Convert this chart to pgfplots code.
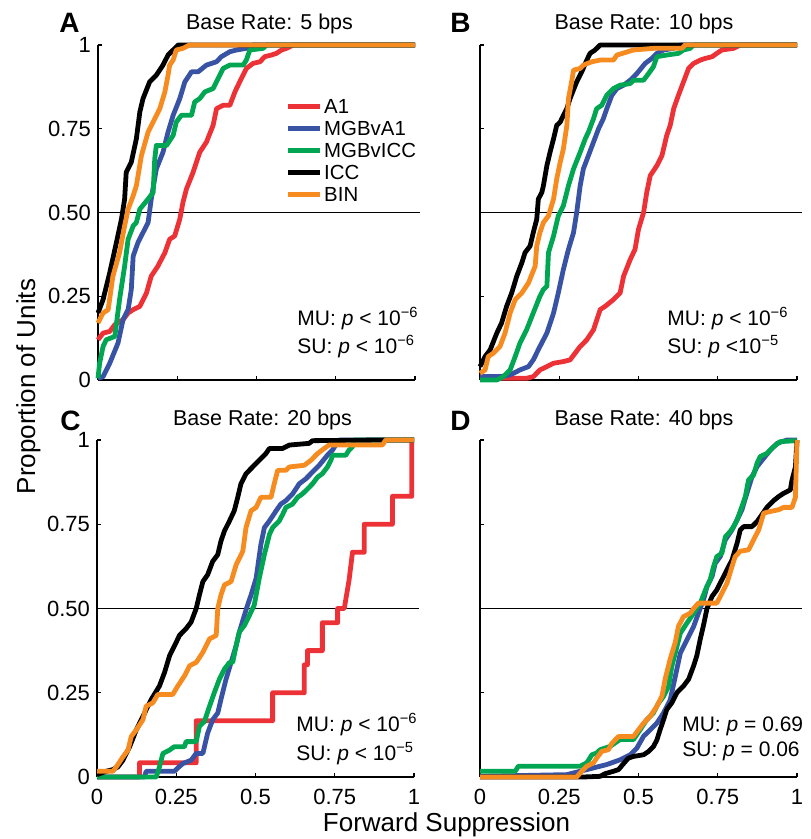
\documentclass[border=0pt]{standalone}
\usepackage{fontspec}
\setmainfont{Liberation Sans}
\usepackage{pgfplots}
\pgfplotsset{compat=1.18}
\definecolor{cA1}{RGB}{237,50,55}
\definecolor{cMA}{RGB}{57,83,164}
\definecolor{cMI}{RGB}{0,166,81}
\definecolor{cICC}{RGB}{0,0,0}
\definecolor{cBIN}{RGB}{246,139,31}
\pgfplotsset{
  panel/.style={
    scale only axis, width=158.5pt, height=167.5pt,
    xmin=0, xmax=1, ymin=0, ymax=1,
    axis x line*=bottom, axis y line*=left,
    axis line style={-, line width=0.7pt, black},
    tick align=inside, major tick length=2pt,
    tick style={line width=0.7pt, black},
    xtick={0,0.25,0.5,0.75,1}, ytick={0,0.25,0.5,0.75,1},
    ticklabel style={font=\fontsize{11}{13}\selectfont},
    xticklabel style={yshift=-2.5pt},
    clip=false,
    every axis plot/.append style={line width=2.4pt, line join=round, mark=none},
  },
}
\tikzset{mutext/.style={anchor=base west, font=\fontsize{10.5}{12}\selectfont, inner sep=0pt}}
\newcommand{\hl}{\addplot[black, line width=0.7pt, forget plot] coordinates {(0,0.5) (1.017,0.5)};}
\begin{document}
\begin{tikzpicture}
\useasboundingbox (0,0) rectangle (405pt,419.5pt);
% ---------------- A ----------------
\begin{axis}[panel, at={(49pt,229.5pt)}, anchor=south west,
  xticklabels={}, yticklabels={0,0.25,0.50,0.75,1},
  legend style={at={(rel axis cs:0.59,0.85)}, anchor=north west, draw=none, fill=none,
    font=\fontsize{10.2}{11}\selectfont, row sep=0pt, inner sep=0pt,
    nodes={inner sep=1pt, text height=8pt, text depth=1pt}},
  legend cell align=left,
  legend image code/.code={\draw[#1, line width=2.4pt] (0pt,0pt) -- (16pt,0pt);}]
\hl
\addplot[cA1] coordinates {(0,0.12) (0.016,0.14) (0.037,0.145) (0.053,0.165) (0.079,0.18) (0.095,0.20) (0.111,0.21) (0.132,0.22) (0.153,0.26) (0.168,0.31) (0.189,0.34) (0.211,0.38) (0.226,0.42) (0.242,0.43) (0.258,0.48) (0.268,0.53) (0.279,0.57) (0.300,0.62) (0.321,0.68) (0.342,0.71) (0.363,0.76) (0.374,0.81) (0.395,0.82) (0.416,0.82) (0.432,0.86) (0.447,0.89) (0.468,0.93) (0.489,0.945) (0.511,0.95) (0.526,0.965) (0.547,0.97) (0.563,0.975) (0.579,0.985) (0.595,0.99) (0.616,1) (1,1)};
\addlegendentry{A1}
\addplot[cMA] coordinates {(0,0.005) (0.016,0.01) (0.037,0.05) (0.063,0.11) (0.079,0.18) (0.095,0.21) (0.105,0.27) (0.111,0.37) (0.126,0.41) (0.142,0.44) (0.158,0.47) (0.168,0.54) (0.184,0.63) (0.205,0.68) (0.221,0.74) (0.237,0.79) (0.258,0.84) (0.274,0.89) (0.295,0.92) (0.316,0.92) (0.342,0.94) (0.374,0.95) (0.389,0.965) (0.416,0.98) (0.437,0.985) (0.468,0.99) (0.489,1) (1,1)};
\addlegendentry{MGBvA1}
\addplot[cMI] coordinates {(0,0.005) (0.005,0.05) (0.016,0.10) (0.026,0.12) (0.053,0.13) (0.068,0.24) (0.084,0.34) (0.095,0.42) (0.111,0.46) (0.121,0.47) (0.132,0.51) (0.158,0.54) (0.174,0.56) (0.179,0.66) (0.184,0.70) (0.216,0.70) (0.237,0.73) (0.247,0.77) (0.263,0.79) (0.295,0.79) (0.305,0.83) (0.321,0.84) (0.337,0.86) (0.363,0.87) (0.379,0.90) (0.395,0.93) (0.416,0.94) (0.458,0.94) (0.468,0.955) (0.479,0.985) (0.521,0.99) (0.532,1) (1,1)};
\addlegendentry{MGBvICC}
\addplot[cICC] coordinates {(0,0.20) (0.016,0.24) (0.037,0.32) (0.058,0.41) (0.074,0.48) (0.084,0.54) (0.089,0.62) (0.105,0.65) (0.121,0.72) (0.132,0.80) (0.142,0.84) (0.163,0.89) (0.184,0.91) (0.205,0.94) (0.221,0.97) (0.237,0.985) (0.253,1) (1,1)};
\addlegendentry{ICC}
\addplot[cBIN] coordinates {(0,0.17) (0.016,0.20) (0.032,0.21) (0.047,0.31) (0.068,0.38) (0.084,0.46) (0.095,0.51) (0.111,0.55) (0.121,0.58) (0.137,0.67) (0.158,0.74) (0.179,0.78) (0.195,0.81) (0.211,0.86) (0.221,0.91) (0.226,0.94) (0.237,0.955) (0.247,0.985) (0.268,0.99) (0.289,1) (1,1)};
\addlegendentry{BIN}
\node[mutext] at (rel axis cs:0.628,0.164) {MU: \textit{p} < 10\textsuperscript{−6}};
\node[mutext] at (rel axis cs:0.628,0.078) {SU: \textit{p} < 10\textsuperscript{−6}};
\end{axis}
% ---------------- B ----------------
\begin{axis}[panel, at={(240pt,229.5pt)}, anchor=south west,
  xticklabels={}, yticklabels={}]
\hl
\addplot[cA1] coordinates {(0,0.01) (0.063,0.005) (0.147,0.005) (0.168,0.01) (0.189,0.03) (0.211,0.04) (0.232,0.05) (0.263,0.055) (0.284,0.06) (0.3,0.08) (0.316,0.10) (0.337,0.12) (0.358,0.15) (0.379,0.21) (0.395,0.22) (0.421,0.24) (0.442,0.26) (0.453,0.31) (0.474,0.36) (0.489,0.39) (0.5,0.45) (0.516,0.50) (0.526,0.56) (0.537,0.61) (0.558,0.64) (0.574,0.67) (0.589,0.73) (0.6,0.76) (0.611,0.81) (0.626,0.85) (0.642,0.89) (0.658,0.93) (0.674,0.945) (0.695,0.955) (0.711,0.96) (0.732,0.965) (0.747,0.975) (0.763,0.985) (0.8,0.99) (0.821,1) (1,1)};
\addplot[cMA] coordinates {(0,0.01) (0.063,0.01) (0.095,0.015) (0.126,0.03) (0.153,0.04) (0.168,0.06) (0.189,0.10) (0.211,0.14) (0.232,0.20) (0.247,0.26) (0.263,0.33) (0.279,0.39) (0.295,0.44) (0.305,0.50) (0.316,0.58) (0.326,0.63) (0.342,0.67) (0.358,0.71) (0.374,0.75) (0.389,0.78) (0.4,0.81) (0.416,0.85) (0.432,0.87) (0.453,0.88) (0.474,0.895) (0.495,0.915) (0.521,0.945) (0.542,0.96) (0.558,0.975) (0.579,0.985) (0.611,0.99) (0.632,1) (1,1)};
\addplot[cMI] coordinates {(0,0) (0.053,0) (0.074,0.01) (0.095,0.03) (0.111,0.07) (0.126,0.11) (0.147,0.15) (0.168,0.20) (0.189,0.25) (0.2,0.27) (0.211,0.28) (0.216,0.38) (0.232,0.43) (0.247,0.49) (0.263,0.52) (0.279,0.58) (0.295,0.63) (0.316,0.68) (0.332,0.72) (0.342,0.74) (0.358,0.78) (0.368,0.81) (0.384,0.82) (0.4,0.85) (0.421,0.87) (0.442,0.88) (0.474,0.885) (0.484,0.895) (0.516,0.895) (0.532,0.915) (0.547,0.935) (0.558,0.965) (0.589,0.97) (0.626,0.975) (0.642,0.985) (0.663,0.99) (0.674,1) (1,1)};
\addplot[cICC] coordinates {(0,0.04) (0.016,0.07) (0.032,0.09) (0.053,0.14) (0.068,0.17) (0.084,0.22) (0.1,0.26) (0.116,0.31) (0.132,0.35) (0.142,0.38) (0.158,0.40) (0.168,0.44) (0.179,0.48) (0.184,0.54) (0.195,0.56) (0.2,0.58) (0.211,0.64) (0.221,0.68) (0.232,0.72) (0.242,0.76) (0.253,0.77) (0.263,0.79) (0.274,0.81) (0.284,0.84) (0.305,0.89) (0.321,0.92) (0.337,0.955) (0.347,0.975) (0.363,0.985) (0.379,1) (1,1)};
\addplot[cBIN] coordinates {(0,0.02) (0.016,0.03) (0.026,0.07) (0.042,0.08) (0.063,0.10) (0.079,0.14) (0.095,0.20) (0.111,0.24) (0.132,0.26) (0.153,0.29) (0.174,0.34) (0.179,0.40) (0.189,0.44) (0.2,0.47) (0.216,0.49) (0.232,0.54) (0.242,0.60) (0.253,0.65) (0.263,0.69) (0.274,0.76) (0.279,0.84) (0.289,0.89) (0.295,0.925) (0.316,0.93) (0.326,0.94) (0.353,0.95) (0.379,0.955) (0.421,0.955) (0.432,0.97) (0.484,0.985) (0.547,0.99) (0.637,0.99) (0.647,1) (1,1)};
\node[mutext] at (rel axis cs:0.59,0.164) {MU: \textit{p} < 10\textsuperscript{−6}};
\node[mutext] at (rel axis cs:0.59,0.078) {SU: \textit{p} <10\textsuperscript{−5}};
\end{axis}
% ---------------- C ----------------
\begin{axis}[panel, height=168.5pt, at={(48.5pt,31pt)}, anchor=south west,
  xticklabels={0,0.25,0.5,0.75,1}, yticklabels={0,0.25,0.50,0.75,1}]
\hl
\addplot[cA1] coordinates {(0,0) (0.134,0) (0.134,0.042) (0.313,0.042) (0.313,0.167) (0.554,0.167) (0.554,0.25) (0.654,0.25) (0.654,0.333) (0.664,0.333) (0.664,0.375) (0.711,0.375) (0.711,0.458) (0.759,0.458) (0.759,0.5) (0.78,0.5) (0.795,0.583) (0.806,0.667) (0.843,0.667) (0.843,0.75) (0.932,0.75) (0.932,0.833) (0.993,0.833) (0.993,1) (1,1)};
\addplot[cMA] coordinates {(0,0) (0.15,0) (0.155,0.017) (0.244,0.017) (0.255,0.027) (0.271,0.04) (0.297,0.05) (0.313,0.07) (0.334,0.07) (0.349,0.13) (0.365,0.17) (0.381,0.19) (0.391,0.23) (0.407,0.29) (0.423,0.34) (0.439,0.39) (0.449,0.43) (0.465,0.48) (0.475,0.51) (0.486,0.54) (0.502,0.59) (0.517,0.69) (0.528,0.74) (0.544,0.76) (0.565,0.79) (0.58,0.81) (0.596,0.82) (0.617,0.84) (0.638,0.87) (0.659,0.885) (0.68,0.905) (0.701,0.925) (0.727,0.955) (0.743,0.97) (0.753,0.985) (0.764,1) (1,1)};
\addplot[cMI] coordinates {(0,0) (0.187,0) (0.197,0.03) (0.208,0.07) (0.229,0.08) (0.244,0.09) (0.276,0.09) (0.281,0.105) (0.313,0.105) (0.323,0.15) (0.339,0.165) (0.355,0.21) (0.37,0.25) (0.386,0.29) (0.402,0.32) (0.418,0.34) (0.428,0.34) (0.439,0.39) (0.449,0.43) (0.465,0.45) (0.481,0.48) (0.496,0.51) (0.512,0.59) (0.528,0.66) (0.544,0.72) (0.554,0.74) (0.575,0.76) (0.586,0.78) (0.596,0.80) (0.617,0.81) (0.633,0.83) (0.648,0.84) (0.659,0.85) (0.68,0.87) (0.696,0.89) (0.711,0.90) (0.727,0.92) (0.738,0.94) (0.743,0.955) (0.785,0.955) (0.795,0.97) (0.806,0.98) (0.811,1) (1,1)};
\addplot[cICC] coordinates {(0,0.007) (0.029,0.017) (0.05,0.022) (0.066,0.03) (0.082,0.05) (0.103,0.09) (0.124,0.14) (0.145,0.18) (0.171,0.23) (0.197,0.27) (0.213,0.31) (0.229,0.36) (0.25,0.40) (0.26,0.42) (0.281,0.44) (0.297,0.46) (0.313,0.50) (0.323,0.54) (0.334,0.58) (0.349,0.60) (0.365,0.64) (0.381,0.66) (0.391,0.70) (0.402,0.73) (0.418,0.76) (0.433,0.79) (0.444,0.83) (0.454,0.87) (0.47,0.90) (0.491,0.92) (0.512,0.94) (0.533,0.96) (0.544,0.975) (0.586,0.975) (0.607,0.985) (0.669,0.99) (0.68,0.998) (0.9,1) (1,1)};
\addplot[cBIN] coordinates {(0,0.017) (0.05,0.017) (0.061,0.03) (0.082,0.06) (0.098,0.08) (0.108,0.12) (0.124,0.14) (0.145,0.17) (0.155,0.21) (0.176,0.22) (0.192,0.245) (0.239,0.245) (0.255,0.27) (0.276,0.30) (0.292,0.33) (0.313,0.34) (0.334,0.37) (0.355,0.41) (0.376,0.42) (0.381,0.50) (0.391,0.54) (0.402,0.57) (0.423,0.58) (0.439,0.63) (0.46,0.67) (0.47,0.74) (0.486,0.79) (0.502,0.80) (0.517,0.83) (0.549,0.83) (0.559,0.87) (0.57,0.91) (0.596,0.91) (0.607,0.92) (0.654,0.925) (0.675,0.94) (0.696,0.96) (0.717,0.975) (0.732,0.985) (0.9,0.985) (0.911,1) (1,1)};
\node[mutext] at (rel axis cs:0.628,0.134) {MU: \textit{p} < 10\textsuperscript{−6}};
\node[mutext] at (rel axis cs:0.628,0.05) {SU: \textit{p} < 10\textsuperscript{−5}};
\end{axis}
% ---------------- D ----------------
\begin{axis}[panel, height=168.5pt, at={(240pt,31pt)}, anchor=south west,
  xticklabels={0,0.25,0.5,0.75,1}, yticklabels={}]
\hl
\addplot[cMA] coordinates {(0,0.002) (0.274,0.007) (0.316,0.017) (0.358,0.027) (0.4,0.037) (0.442,0.051) (0.474,0.066) (0.495,0.086) (0.516,0.121) (0.537,0.14) (0.558,0.16) (0.579,0.19) (0.6,0.229) (0.616,0.298) (0.632,0.368) (0.653,0.407) (0.674,0.447) (0.689,0.486) (0.705,0.526) (0.716,0.565) (0.732,0.595) (0.742,0.634) (0.758,0.654) (0.774,0.704) (0.795,0.733) (0.811,0.763) (0.826,0.792) (0.842,0.842) (0.858,0.891) (0.874,0.921) (0.895,0.946) (0.916,0.97) (0.937,0.99) (0.968,1) (1,1)};
\addplot[cMI] coordinates {(0,0.017) (0.111,0.017) (0.121,0.032) (0.316,0.032) (0.337,0.042) (0.353,0.066) (0.368,0.071) (0.379,0.081) (0.411,0.091) (0.426,0.101) (0.442,0.111) (0.484,0.111) (0.505,0.14) (0.526,0.17) (0.547,0.19) (0.563,0.219) (0.579,0.239) (0.595,0.269) (0.605,0.328) (0.616,0.368) (0.632,0.427) (0.653,0.457) (0.674,0.486) (0.695,0.516) (0.711,0.555) (0.726,0.585) (0.737,0.625) (0.747,0.654) (0.763,0.664) (0.774,0.713) (0.789,0.728) (0.8,0.743) (0.811,0.763) (0.826,0.802) (0.837,0.832) (0.847,0.881) (0.863,0.896) (0.874,0.931) (0.884,0.951) (0.905,0.96) (0.926,0.98) (0.947,0.995) (0.995,0.998) (1,1)};
\addplot[cICC] coordinates {(0,0) (0.326,0) (0.379,0.002) (0.395,0.01) (0.421,0.017) (0.437,0.022) (0.453,0.04) (0.468,0.056) (0.484,0.061) (0.516,0.066) (0.532,0.076) (0.547,0.09) (0.558,0.11) (0.568,0.14) (0.579,0.17) (0.589,0.20) (0.605,0.22) (0.621,0.25) (0.642,0.27) (0.658,0.29) (0.674,0.33) (0.684,0.36) (0.695,0.41) (0.705,0.45) (0.716,0.50) (0.732,0.536) (0.747,0.555) (0.763,0.585) (0.779,0.615) (0.795,0.644) (0.811,0.694) (0.821,0.733) (0.832,0.743) (0.858,0.743) (0.874,0.758) (0.889,0.778) (0.905,0.80) (0.926,0.82) (0.942,0.832) (0.958,0.842) (0.979,0.852) (0.984,0.88) (0.995,0.92) (1,1)};
\addplot[cBIN] coordinates {(0,0) (0.305,0) (0.321,0.017) (0.337,0.032) (0.358,0.042) (0.368,0.056) (0.384,0.076) (0.405,0.081) (0.416,0.10) (0.437,0.12) (0.484,0.12) (0.5,0.14) (0.516,0.16) (0.537,0.18) (0.558,0.21) (0.574,0.24) (0.584,0.29) (0.6,0.35) (0.616,0.40) (0.626,0.447) (0.642,0.476) (0.663,0.486) (0.674,0.50) (0.689,0.516) (0.747,0.516) (0.763,0.545) (0.779,0.575) (0.795,0.625) (0.805,0.654) (0.821,0.67) (0.847,0.674) (0.863,0.704) (0.879,0.733) (0.895,0.783) (0.916,0.788) (0.942,0.793) (0.958,0.80) (0.984,0.80) (0.995,0.83) (1,1)};
\node[mutext] at (rel axis cs:0.637,0.134) {MU: \textit{p} = 0.69};
\node[mutext] at (rel axis cs:0.637,0.06) {SU: \textit{p} = 0.06};
\end{axis}
% ---------------- titles and labels ----------------
\node[anchor=base, font=\fontsize{10.75}{12}\selectfont, inner sep=0pt] at (134.75pt,404.5pt) {Base Rate: 5 bps};
\node[anchor=base, font=\fontsize{10.75}{12}\selectfont, inner sep=0pt] at (322pt,404.5pt) {Base Rate: 10 bps};
\node[anchor=base, font=\fontsize{10.75}{12}\selectfont, inner sep=0pt] at (131.25pt,206.5pt) {Base Rate: 20 bps};
\node[anchor=base, font=\fontsize{10.75}{12}\selectfont, inner sep=0pt] at (322pt,206.5pt) {Base Rate: 40 bps};
\node[anchor=base west, font=\fontsize{14}{16}\selectfont\bfseries, inner sep=0pt] at (29.5pt,403pt) {A};
\node[anchor=base west, font=\fontsize{14}{16}\selectfont\bfseries, inner sep=0pt] at (225pt,403pt) {B};
\node[anchor=base west, font=\fontsize{14}{16}\selectfont\bfseries, inner sep=0pt] at (30pt,204pt) {C};
\node[anchor=base west, font=\fontsize{14}{16}\selectfont\bfseries, inner sep=0pt] at (225pt,204pt) {D};
\node[anchor=base, font=\fontsize{13}{15}\selectfont, inner sep=0pt] at (223.25pt,4pt) {Forward Suppression};
\node[anchor=base, rotate=90, font=\fontsize{13}{15}\selectfont, inner sep=0pt] at (17.5pt,226.25pt) {Proportion of Units};
\end{tikzpicture}
\end{document}
